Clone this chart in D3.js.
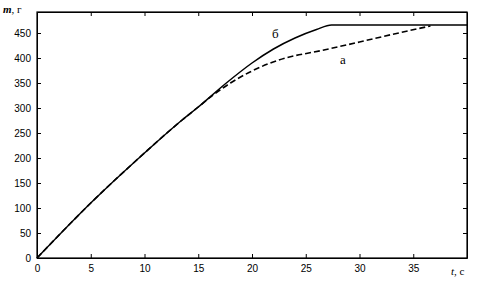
<!DOCTYPE html>
<html>
<head>
<meta charset="utf-8"/>
<script src="https://cdn.jsdelivr.net/npm/d3@7"></script>
<style>
	body { margin: 0; background: #fff; }
	svg { display: block; }
	.axis text { font-family: 'Liberation Sans', Arial, sans-serif; font-size: 10px; fill: #000; }
	.axis path, .axis line { stroke: #000; stroke-width: 1; }
	.lbl { font-family: 'Liberation Serif', 'Times New Roman', serif; font-size: 13px; fill: #000; }
</style>
</head>
<body>
<div id="chart"></div>
<script>
// curve "а" (dashed)
var tA = [0, 5, 10, 13.5, 15, 16.5, 18, 20, 22.5, 26.7, 30, 33, 36.6];
var mA = [0, 110, 210, 276, 302, 328, 350, 374, 396, 416, 432, 447, 464];
// curve "б" (solid)
var tB = [0, 5, 10, 13.5, 15, 17.5, 20, 22, 24, 26, 27.4, 40];
var mB = [0, 110, 210, 276, 302, 348, 390, 418, 440, 457, 466, 466];

var xTicks = [0, 5, 10, 15, 20, 25, 30, 35];
var yTicks = [0, 50, 100, 150, 200, 250, 300, 350, 400, 450];

var W = 479, H = 281;
var m = {top: 12, right: 12, bottom: 23, left: 37}; // plot box 37..467, 12..258

var svg = d3.select('#chart').append('svg')
	.attr('width', W)
	.attr('height', H);

var x = d3.scaleLinear().domain([0, 40]).range([m.left, W - m.right]);
var y = d3.scaleLinear().domain([0, 492]).range([H - m.bottom, m.top]);

// axes, ticks point inward on all four sides
svg.append('g').attr('class', 'axis')
	.attr('transform', `translate(0,${y(0)})`)
	.call(d3.axisBottom(x).tickValues(xTicks).tickSize(-4).tickPadding(7).tickSizeOuter(0));
svg.append('g').attr('class', 'axis')
	.attr('transform', `translate(0,${m.top})`)
	.call(d3.axisTop(x).tickValues(xTicks.slice(1)).tickSize(-4).tickFormat('').tickSizeOuter(0));
svg.append('g').attr('class', 'axis')
	.attr('transform', `translate(${x(0)},0)`)
	.call(d3.axisLeft(y).tickValues(yTicks).tickSize(-4).tickPadding(6).tickSizeOuter(0));
svg.append('g').attr('class', 'axis')
	.attr('transform', `translate(${x(40)},0)`)
	.call(d3.axisRight(y).tickValues(yTicks.slice(1)).tickSize(-4).tickFormat('').tickSizeOuter(0));

// frame
svg.append('rect')
	.attr('x', x(0)).attr('y', y(492))
	.attr('width', x(40) - x(0)).attr('height', y(0) - y(492))
	.attr('fill', 'none').attr('stroke', '#000').attr('stroke-width', 1.2);

var line = d3.line()
	.x(d => x(d[0]))
	.y(d => y(d[1]))
	.curve(d3.curveMonotoneX);

svg.append('path')
	.attr('d', line(d3.zip(tB, mB)))
	.attr('fill', 'none').attr('stroke', '#000').attr('stroke-width', 1.5);
svg.append('path')
	.attr('d', line(d3.zip(tA, mA)))
	.attr('fill', 'none').attr('stroke', '#000').attr('stroke-width', 1.6)
	.attr('stroke-dasharray', '6,3');

// labels
svg.append('text').attr('class', 'lbl').attr('x', 272).attr('y', 38).text('б');
svg.append('text').attr('class', 'lbl').attr('x', 340).attr('y', 64).text('а');

var yl = svg.append('text').attr('class', 'lbl').attr('x', 3).attr('y', 13).style('font-size', '11px');
yl.append('tspan').style('font-style', 'italic').style('font-weight', 'bold').text('m');
yl.append('tspan').text(', г');

var xl = svg.append('text').attr('class', 'lbl').attr('x', 451).attr('y', 275).style('font-size', '11px');
xl.append('tspan').style('font-style', 'italic').text('t');
xl.append('tspan').text(', с');
</script>
</body>
</html>
